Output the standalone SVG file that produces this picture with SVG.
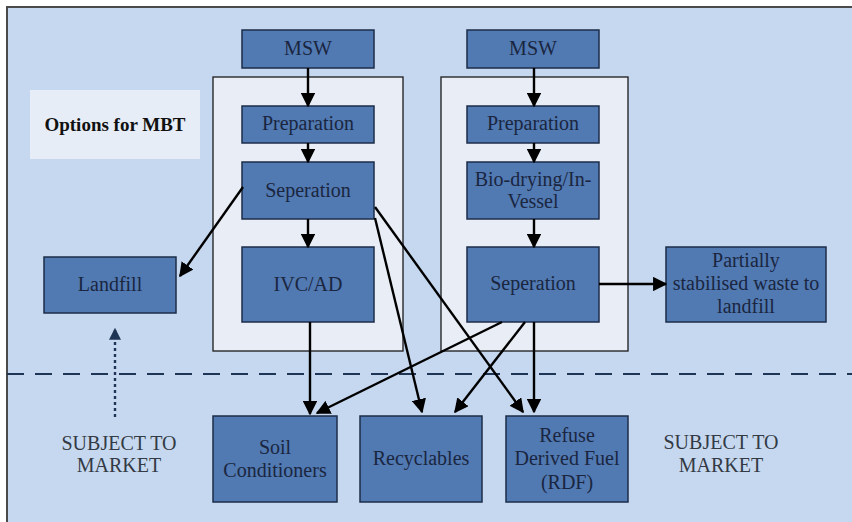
<svg xmlns="http://www.w3.org/2000/svg" width="852" height="522" viewBox="0 0 852 522">
<defs>
<style>
.bg{fill:#c6d8ef}
.cont{fill:#e9eef6;stroke:#1a1a1a;stroke-width:1.3}
.box{fill:#5179b2;stroke:#1c2c48;stroke-width:1.5}
text{font-family:'Liberation Serif','DejaVu Serif','Times New Roman',serif;font-size:20px;text-anchor:middle}
.t{fill:#1a2640}
.m{fill:#333a44}
.b{font-weight:bold;fill:#111;font-size:19px}
.c{stroke:#000;stroke-width:2.4;fill:none;marker-end:url(#ah)}
</style>
<marker id="ah" viewBox="0 0 10 10" refX="9" refY="5" markerWidth="6" markerHeight="6" markerUnits="strokeWidth" orient="auto">
<path d="M0,0 L10,5 L0,10 z" fill="#000"/>
</marker>
<marker id="ahd" viewBox="0 0 10 10" refX="9" refY="5" markerWidth="5" markerHeight="5" markerUnits="strokeWidth" orient="auto">
<path d="M0,0 L10,5 L0,10 z" fill="#1f3556"/>
</marker>
</defs>
<rect x="0" y="0" width="852" height="522" fill="#ffffff"/>
<rect class="bg" x="7" y="7" width="845" height="515"/>
<path d="M7,522 V7 H852" fill="none" stroke="#4a4a4a" stroke-width="2"/>
<line x1="7" y1="374" x2="852" y2="374" stroke="#1f3556" stroke-width="2" stroke-dasharray="17,11"/>

<g id="options">
<rect x="30" y="90" width="170" height="69" fill="#e7edf6"/>
<text class="b" x="115" y="131">Options for MBT</text>
</g>

<g id="containerLeft"><rect class="cont" x="213" y="77" width="190" height="274"/></g>
<g id="containerRight"><rect class="cont" x="441" y="77" width="187" height="274"/></g>

<g id="msw1"><rect class="box" x="242" y="30" width="132" height="38"/><text class="t" x="308" y="55">MSW</text></g>
<g id="prep1"><rect class="box" x="242" y="106" width="132" height="37"/><text class="t" x="308" y="130">Preparation</text></g>
<g id="sep1"><rect class="box" x="242" y="162" width="132" height="57"/><text class="t" x="308" y="197">Seperation</text></g>
<g id="ivc"><rect class="box" x="242" y="247" width="132" height="75"/><text class="t" x="308" y="291">IVC/AD</text></g>
<g id="landfill"><rect class="box" x="44" y="257" width="132" height="56"/><text class="t" x="110" y="291">Landfill</text></g>

<g id="msw2"><rect class="box" x="467" y="30" width="132" height="38"/><text class="t" x="533" y="55">MSW</text></g>
<g id="prep2"><rect class="box" x="467" y="106" width="132" height="37"/><text class="t" x="533" y="130">Preparation</text></g>
<g id="bio"><rect class="box" x="467" y="162" width="132" height="57"/><text class="t" x="533" y="186">Bio-drying/In-</text><text class="t" x="533" y="208">Vessel</text></g>
<g id="sep2"><rect class="box" x="467" y="247" width="132" height="75"/><text class="t" x="533" y="290">Seperation</text></g>
<g id="partial"><rect class="box" x="666" y="247" width="160" height="75"/><text class="t" x="746" y="267">Partially</text><text class="t" x="746" y="290">stabilised waste to</text><text class="t" x="746" y="313">landfill</text></g>

<g id="soil"><rect class="box" x="213" y="416" width="124" height="86"/><text class="t" x="275" y="454">Soil</text><text class="t" x="275" y="477">Conditioners</text></g>
<g id="recyc"><rect class="box" x="360" y="416" width="122" height="86"/><text class="t" x="421" y="465">Recyclables</text></g>
<g id="rdf"><rect class="box" x="506" y="416" width="122" height="86"/><text class="t" x="567" y="442">Refuse</text><text class="t" x="567" y="465">Derived Fuel</text><text class="t" x="567" y="489">(RDF)</text></g>

<g id="labels">
<text class="m" x="119" y="450">SUBJECT TO</text><text class="m" x="119" y="472">MARKET</text>
<text class="m" x="721" y="449">SUBJECT TO</text><text class="m" x="721" y="472">MARKET</text>
</g>

<g id="connectors">
<line class="c" x1="308" y1="68" x2="308" y2="106"/>
<line class="c" x1="308" y1="143" x2="308" y2="162"/>
<line class="c" x1="308" y1="219" x2="308" y2="247"/>
<line class="c" x1="243" y1="187" x2="180" y2="276"/>
<line class="c" x1="310" y1="322" x2="310" y2="414"/>
<line class="c" x1="375" y1="218" x2="422" y2="412"/>
<line class="c" x1="375" y1="207" x2="523" y2="412"/>
<line class="c" x1="534" y1="68" x2="534" y2="106"/>
<line class="c" x1="534" y1="143" x2="534" y2="162"/>
<line class="c" x1="534" y1="219" x2="534" y2="247"/>
<line class="c" x1="534" y1="322" x2="534" y2="412"/>
<line class="c" x1="525" y1="322" x2="455" y2="412"/>
<line class="c" x1="502" y1="322" x2="317" y2="413"/>
<line class="c" x1="599" y1="284" x2="666" y2="284"/>
<line x1="115" y1="417" x2="115" y2="329" stroke="#1f3556" stroke-width="2.4" stroke-dasharray="3,3" marker-end="url(#ahd)"/>
</g>
</svg>
